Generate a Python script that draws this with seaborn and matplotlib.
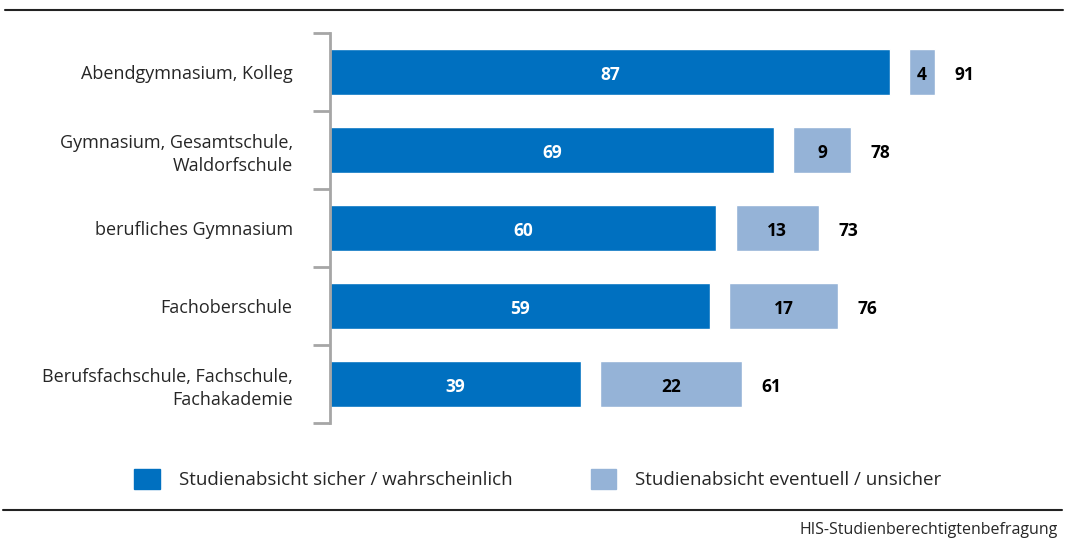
import numpy as np
import pandas as pd
import seaborn as sns
import matplotlib.pyplot as plt
from matplotlib.patches import Patch

categories = ["Abendgymnasium, Kolleg",
              "Gymnasium, Gesamtschule,\nWaldorfschule",
              "berufliches Gymnasium",
              "Fachoberschule",
              "Berufsfachschule, Fachschule,\nFachakademie"]
sicher = [87, 69, 60, 59, 39]
eventuell = [4, 9, 13, 17, 22]
gesamt = [91, 78, 73, 76, 61]

dark = "#0070C0"
light = "#95B3D7"
gap = 3

df = pd.DataFrame({"Schulart": categories, "sicher": sicher,
                   "eventuell": eventuell, "gesamt": gesamt})

sns.set_style("white")
plt.rcParams["font.family"] = ["Open Sans", "DejaVu Sans"]

fig = plt.figure(figsize=(10.65, 5.39), dpi=100)
ax = fig.add_axes([0.31, 0.2152, 0.69, 0.7236])

sns.barplot(data=df, x="sicher", y="Schulart", color=dark, width=0.6,
            orient="h", ax=ax, saturation=1)
ypos = np.arange(len(categories))
ax.barh(ypos, df["eventuell"], left=df["sicher"] + gap, height=0.6,
        color=light)

for i, row in df.iterrows():
    ax.text(row["sicher"] / 2, i + 0.04, str(row["sicher"]), ha="center", va="center",
            color="white", fontsize=12.5, fontweight="bold")
    ax.text(row["sicher"] + gap + row["eventuell"] / 2, i + 0.04, str(row["eventuell"]),
            ha="center", va="center", color="black", fontsize=12.5, fontweight="bold")
    ax.text(row["sicher"] + gap + row["eventuell"] + 3, i + 0.04, str(row["gesamt"]),
            ha="left", va="center", color="black", fontsize=12.5, fontweight="bold")

ax.set_xlim(0, 114.2)
ax.set_ylim(4.5, -0.5)
ax.set_xlabel("")
ax.set_ylabel("")
ax.set_xticks([])
for s in ["top", "right", "bottom"]:
    ax.spines[s].set_visible(False)
ax.spines["left"].set_color("#A6A6A6")
ax.spines["left"].set_linewidth(2)
ax.set_yticks(ypos)
ax.set_yticklabels(categories, fontsize=13, ha="right", linespacing=1.35)
ax.tick_params(axis="y", which="major", left=True, length=0, pad=27)
ax.set_yticks(np.arange(-0.5, 5.0, 1.0), minor=True)
ax.tick_params(axis="y", which="minor", left=True, length=12, width=2,
               color="#A6A6A6", direction="out")

# legend
handles = [Patch(color=dark, label="Studienabsicht sicher / wahrscheinlich"),
           Patch(color=light, label="Studienabsicht eventuell / unsicher")]
fig.legend(handles=handles, loc="center", bbox_to_anchor=(0.505, 0.111), ncol=2,
           frameon=False, fontsize=13.5, handlelength=1.35, handleheight=1.25,
           columnspacing=4.2, handletextpad=1.0)

# rules and source
fig.add_artist(plt.Line2D([0.005, 0.998], [0.981, 0.981], color="#222222", lw=1.5))
fig.add_artist(plt.Line2D([0.003, 0.997], [0.054, 0.054], color="#222222", lw=1.5))
fig.text(0.993, 0.017, "HIS-Studienberechtigtenbefragung", ha="right", va="center",
         fontsize=11.5)

fig.savefig("out.png", dpi=100)
